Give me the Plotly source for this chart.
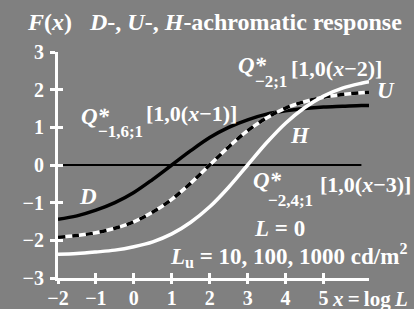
import plotly.graph_objects as go

# ---- data ----
x_vals = [-2, -1.5, -1, -0.5, 0, 0.5, 1, 1.5, 2, 2.5, 3, 3.5, 4, 4.5, 5, 5.5, 6, 6.2]
d_vals = [-1.44, -1.35, -1.20, -1.00, -0.73, -0.38, 0.0, 0.38, 0.73, 1.00, 1.20, 1.35, 1.44, 1.50, 1.54, 1.56, 1.58, 1.58]
u_vals = [-1.92, -1.87, -1.80, -1.68, -1.51, -1.25, -0.91, -0.48, 0.0, 0.48, 0.91, 1.25, 1.51, 1.68, 1.80, 1.87, 1.92, 1.93]
h_vals = [-2.37, -2.35, -2.31, -2.26, -2.17, -2.04, -1.83, -1.52, -1.11, -0.59, 0.0, 0.59, 1.11, 1.52, 1.83, 2.04, 2.17, 2.21]
zero_x = [-2, 6]
zero_y = [0, 0]
x_ticks = [-2, -1, 0, 1, 2, 3, 4, 5]
y_ticks = [-3, -2, -1, 0, 1, 2, 3]
x_range = [-2, 6.2]
y_range = [-3, 3]

W, H = 414, 309
ML, MR, MT, MB = 58, 45, 52, 31
PW, PH = W - ML - MR, H - MT - MB
BG = "#808080"
FONT = "Liberation Serif, Times New Roman, DejaVu Serif, serif"

fig = go.Figure()
fig.add_trace(go.Scatter(x=zero_x, y=zero_y, mode="lines",
                         line=dict(color="black", width=2), hoverinfo="skip"))
fig.add_trace(go.Scatter(x=x_vals, y=d_vals, mode="lines", line_shape="spline",
                         line=dict(color="black", width=3.5)))
fig.add_trace(go.Scatter(x=x_vals, y=u_vals, mode="lines", line_shape="spline",
                         line=dict(color="white", width=3.5)))
fig.add_trace(go.Scatter(x=x_vals, y=u_vals, mode="lines", line_shape="spline",
                         line=dict(color="black", width=3.5, dash="7px,7px")))
fig.add_trace(go.Scatter(x=x_vals, y=h_vals, mode="lines", line_shape="spline",
                         line=dict(color="white", width=3.5)))
# invisible trace for overlay axes (other tick halves)
fig.add_trace(go.Scatter(x=[x_range[0]], y=[y_range[0]], mode="markers",
                         marker=dict(opacity=0), xaxis="x2", yaxis="y2", hoverinfo="skip"))

tickfont = dict(family=FONT, size=20, color="white", weight="bold")
common = dict(showgrid=False, zeroline=False, tickcolor="white", tickwidth=3,
              ticklen=5, automargin=False)
fig.update_layout(
    width=W, height=H, autosize=False,
    margin=dict(l=ML, r=MR, t=MT, b=MB, pad=0),
    paper_bgcolor=BG, plot_bgcolor=BG, showlegend=False, hovermode=False,
    xaxis=dict(range=x_range, tickvals=x_ticks, ticks="inside", showline=True,
               linecolor="white", linewidth=3, tickfont=tickfont,
               ticklabelstandoff=0, **common),
    yaxis=dict(range=y_range, tickvals=y_ticks, ticks="outside", showline=True,
               linecolor="white", linewidth=3, tickfont=tickfont,
               ticklabelstandoff=2, **common),
    xaxis2=dict(range=x_range, tickvals=x_ticks, ticks="outside", overlaying="x",
                side="bottom", showticklabels=False, showline=False, **common),
    yaxis2=dict(range=y_range, tickvals=y_ticks, ticks="inside", overlaying="y",
                showticklabels=False, showline=False, **common),
)


def px(xp):
    return (xp - ML) / PW


def py(yp):
    return (MT + PH - yp) / PH


# (text, centre x px, centre y px, font size)
labels = [
    ("<i>F</i>(<i>x</i>)&nbsp;&nbsp; <i>D</i>-, <i>U</i>-, <i>H</i>-achromatic response", 215, 22, 24),
    ("<i>Q*</i>", 95, 116, 23),
    ("−1,6;1", 120, 131, 17),
    ("[1,0(<i>x</i>−1)]", 191, 113, 22),
    ("<i>Q*</i>", 252, 65, 23),
    ("−2;1", 271, 81, 17),
    ("[1,0(<i>x</i>−2)]", 336, 68, 22),
    ("<i>Q*</i>", 267, 180, 23),
    ("−2,4;1", 290, 200, 17),
    ("[1,0(<i>x</i>−3)]", 365, 184, 22),
    ("<i>L</i> = 0", 279, 228, 23),
    ("<i>L</i><sub>u</sub> = 10, 100, 1000 cd/m<sup>2</sup>", 288, 255, 23),
    ("<i>x</i>\u2009=\u2009log\u2009<i>L</i>", 370, 299, 21),
    ("<i>U</i>", 386, 90, 23),
    ("<i>H</i>", 300, 135, 23),
    ("<i>D</i>", 88, 196, 23),
]
for text, cx, cy, size in labels:
    fig.add_annotation(text=text, x=px(cx), y=py(cy), xref="paper", yref="paper",
                       xanchor="center", yanchor="middle", showarrow=False,
                       borderpad=0,
                       font=dict(family=FONT, size=size, color="white", weight="bold"))

fig.write_html("out.html", config={"displayModeBar": False},
               post_script="document.body.style.margin='0';")
